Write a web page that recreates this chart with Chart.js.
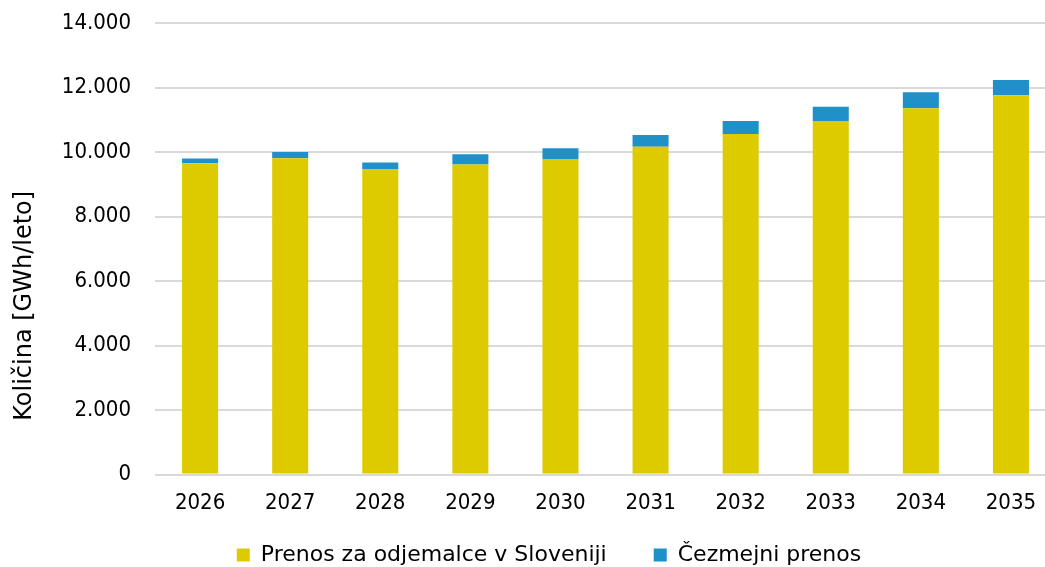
<!DOCTYPE html>
<html>
<head>
<meta charset="utf-8">
<script src="https://cdn.jsdelivr.net/npm/chart.js@4.4.1/dist/chart.umd.min.js"></script>
<style>
  html, body { margin: 0; padding: 0; background: #fff; overflow: hidden; }
  #wrap { position: absolute; left: 0; top: 0; width: 1070px; height: 567px; }
</style>
</head>
<body>
<div id="wrap"><canvas id="chart" width="1070" height="567"></canvas></div>
<script>
// years on the x axis
const years = ["2026", "2027", "2028", "2029", "2030", "2031", "2032", "2033", "2034", "2035"];
// GWh/leto
const domestic = [9650, 9810, 9460, 9610, 9770, 10160, 10560, 10960, 11360, 11760];
const crossBorder = [150, 190, 215, 320, 350, 370, 400, 445, 495, 490];
const yTicks = [0, 2000, 4000, 6000, 8000, 10000, 12000, 14000];

const TICK_FONT = "'DejaVu Sans Condensed', Roboto, sans-serif";
const TEXT_FONT = "'DejaVu Sans', sans-serif";

// the original puts the legend a bit right of centre, close under the years,
// and its y title lower than the middle of the axis
const nudge = {
  id: "nudge",
  afterLayout(chart) {
    const lg = chart.legend;
    const h = lg.bottom - lg.top;
    lg.left += 16;
    lg.right += 16;
    lg.top = 497;
    lg.bottom = 497 + h;
    const y = chart.scales.y;
    y.top += 57;
    y.bottom += 57;
  }
};

const ctx = document.getElementById("chart").getContext("2d");
new Chart(ctx, {
  type: "bar",
  data: {
    labels: years,
    datasets: [
      {
        label: "Prenos za odjemalce v Sloveniji",
        data: domestic,
        backgroundColor: "#DDCB00",
        barPercentage: 0.4,
        categoryPercentage: 1,
      },
      {
        label: "Čezmejni prenos",
        data: crossBorder,
        backgroundColor: "#1F91C8",
        barPercentage: 0.4,
        categoryPercentage: 1,
      },
    ],
  },
  options: {
    responsive: false,
    animation: false,
    layout: { padding: { top: 23, right: 14, left: 10, bottom: -43 } },
    plugins: {
      tooltip: { enabled: false },
      legend: {
        position: "bottom",
        labels: {
          boxWidth: 13,
          boxHeight: 13,
          padding: 47,
          color: "#000",
          font: { family: TEXT_FONT, size: 22 },
        },
      },
    },
    scales: {
      x: {
        stacked: true,
        grid: { display: false, drawTicks: false },
        border: { display: false },
        ticks: { color: "#000", padding: 15, font: { family: TICK_FONT, size: 22 } },
      },
      y: {
        stacked: true,
        min: 0,
        max: 14000,
        afterBuildTicks: axis => { axis.ticks = yTicks.map(v => ({ value: v })); },
        grid: { color: "#D9D9D9", lineWidth: 2, tickLength: 24, tickColor: "rgba(0,0,0,0)" },
        border: { display: false },
        ticks: {
          color: "#000",
          padding: 0,
          font: { family: TICK_FONT, size: 22 },
          callback: v => v.toString().replace(/\B(?=(\d{3})+(?!\d))/g, "."),
        },
        title: {
          display: true,
          text: "Količina [GWh/leto]",
          color: "#000",
          font: { family: TEXT_FONT, size: 24 },
          padding: { top: 0, bottom: 23 },
        },
      },
    },
  },
  plugins: [nudge],
});
</script>
</body>
</html>
